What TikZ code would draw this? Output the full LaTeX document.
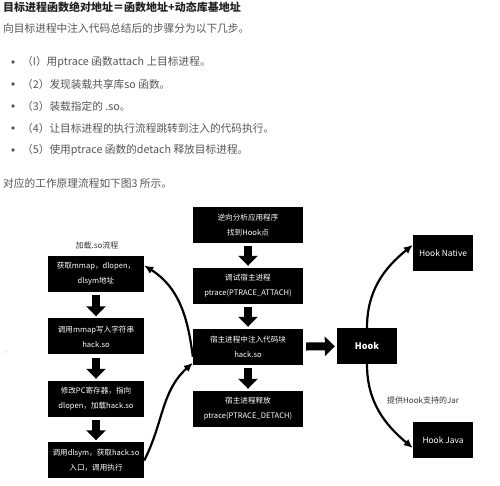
\documentclass[tikz,border=0pt]{standalone}
\usepackage{fontspec}
\setmainfont{Noto Sans CJK SC}
\usetikzlibrary{arrows.meta}
\definecolor{txtgray}{HTML}{555555}
\definecolor{ttlgray}{HTML}{222222}
\definecolor{lblgray}{HTML}{333333}
\begin{document}
\begin{tikzpicture}[x=1pt,y=1pt,
  box/.style={fill=black, text=white, align=center, inner sep=0pt, font=\fontsize{7.6}{15}\selectfont},
  lbox/.style={box, minimum width=96pt, minimum height=36pt},
  mbox/.style={box, minimum width=110pt, minimum height=36pt},
  sbox/.style={box, minimum width=60pt, minimum height=36pt, font=\fontsize{8.4}{10}\selectfont},
  fat/.style={line width=8pt, -{Triangle[width=19pt,length=10pt]}, shorten <=3pt, shorten >=2pt},
  curvearrow/.style={line width=2.2pt, -{Latex[length=9pt,width=8pt]}},
  txt/.style={anchor=west, inner sep=0pt, text=txtgray, font=\fontsize{10.7}{12}\selectfont}]
\useasboundingbox (0,0) rectangle (500,486);
% text above the figure
\node[txt, text=ttlgray, font=\bfseries\fontsize{11}{12}\selectfont] (title) at (3,479) {目标进程函数绝对地址＝函数地址+动态库基地址};
\node[txt] (intro) at (3,458) {向目标进程中注入代码总结后的步骤分为以下几步。};
\foreach \y/\t [count=\i] in {424/（I）用ptrace 函数attach 上目标进程。,
    402/（2）发现装载共享库so 函数。,
    380/（3）装载指定的 .so。,
    358/（4）让目标进程的执行流程跳转到注入的代码执行。,
    336/（5）使用ptrace 函数的detach 释放目标进程。}{
  \fill[txtgray] (13,\y) circle (1.8pt) coordinate (dot\i);
  \node[txt] (step\i) at (22,\y) {\t};
}
\node[txt] (outro) at (3,303) {对应的工作原理流程如下图3 所示。};
\node[txt, text=black!25, font=\fontsize{6}{7}\selectfont] (mark) at (3,134) {:-:};
% load .so
\node[text=lblgray, font=\fontsize{8}{10}\selectfont] (loadlbl) at (97,241) {加载.so流程};
\node[lbox] (load0) at (96,212) {获取mmap，dlopen，\\dlsym地址};
\node[lbox] (load1) at (96,149.5) {调用mmap写入字符串\\hack.so};
\node[lbox] (load2) at (96,87) {修改PC寄存器，指向\\dlopen，加载hack.so};
\node[lbox] (load3) at (96,25.5) {调用dlsym，获取hack.so\\入口，调用执行};
% host process
\node[mbox] (host0) at (248,261) {逆向分析应用程序\\找到Hook点};
\node[mbox] (host1) at (248,200) {调试宿主进程\\ptrace(PTRACE\_ATTACH)};
\node[mbox] (host2) at (248,139) {宿主进程中注入代码块\\hack.so};
\node[mbox] (host3) at (248,77) {宿主进程释放\\ptrace(PTRACE\_DETACH)};
% hook
\node[sbox, font=\bfseries\fontsize{9}{10}\selectfont] (hook) at (367,140) {Hook};
\node[sbox] (hooknat) at (443,233) {Hook Native};
\node[sbox] (hookjava) at (443,45.5) {Hook Java};
\node[text=lblgray, font=\fontsize{8}{10}\selectfont] (jarlbl) at (423,86) {提供Hook支持的Jar};
\foreach \a/\b in {load0/load1, load1/load2, load2/load3, host0/host1, host1/host2, host2/host3, host2/hook}
  \draw[fat] (\a) -- (\b);
\draw[curvearrow] (host2.190) to[out=97, in=-32] (load0.10);
\draw[curvearrow] (load3.east) to[out=63, in=222] (host2.196);
\draw[curvearrow] (hook.north) to[out=90, in=219] (hooknat.165);
\draw[curvearrow] (hook.south) to[out=-90, in=140] (hookjava.194);
\end{tikzpicture}
\end{document}
